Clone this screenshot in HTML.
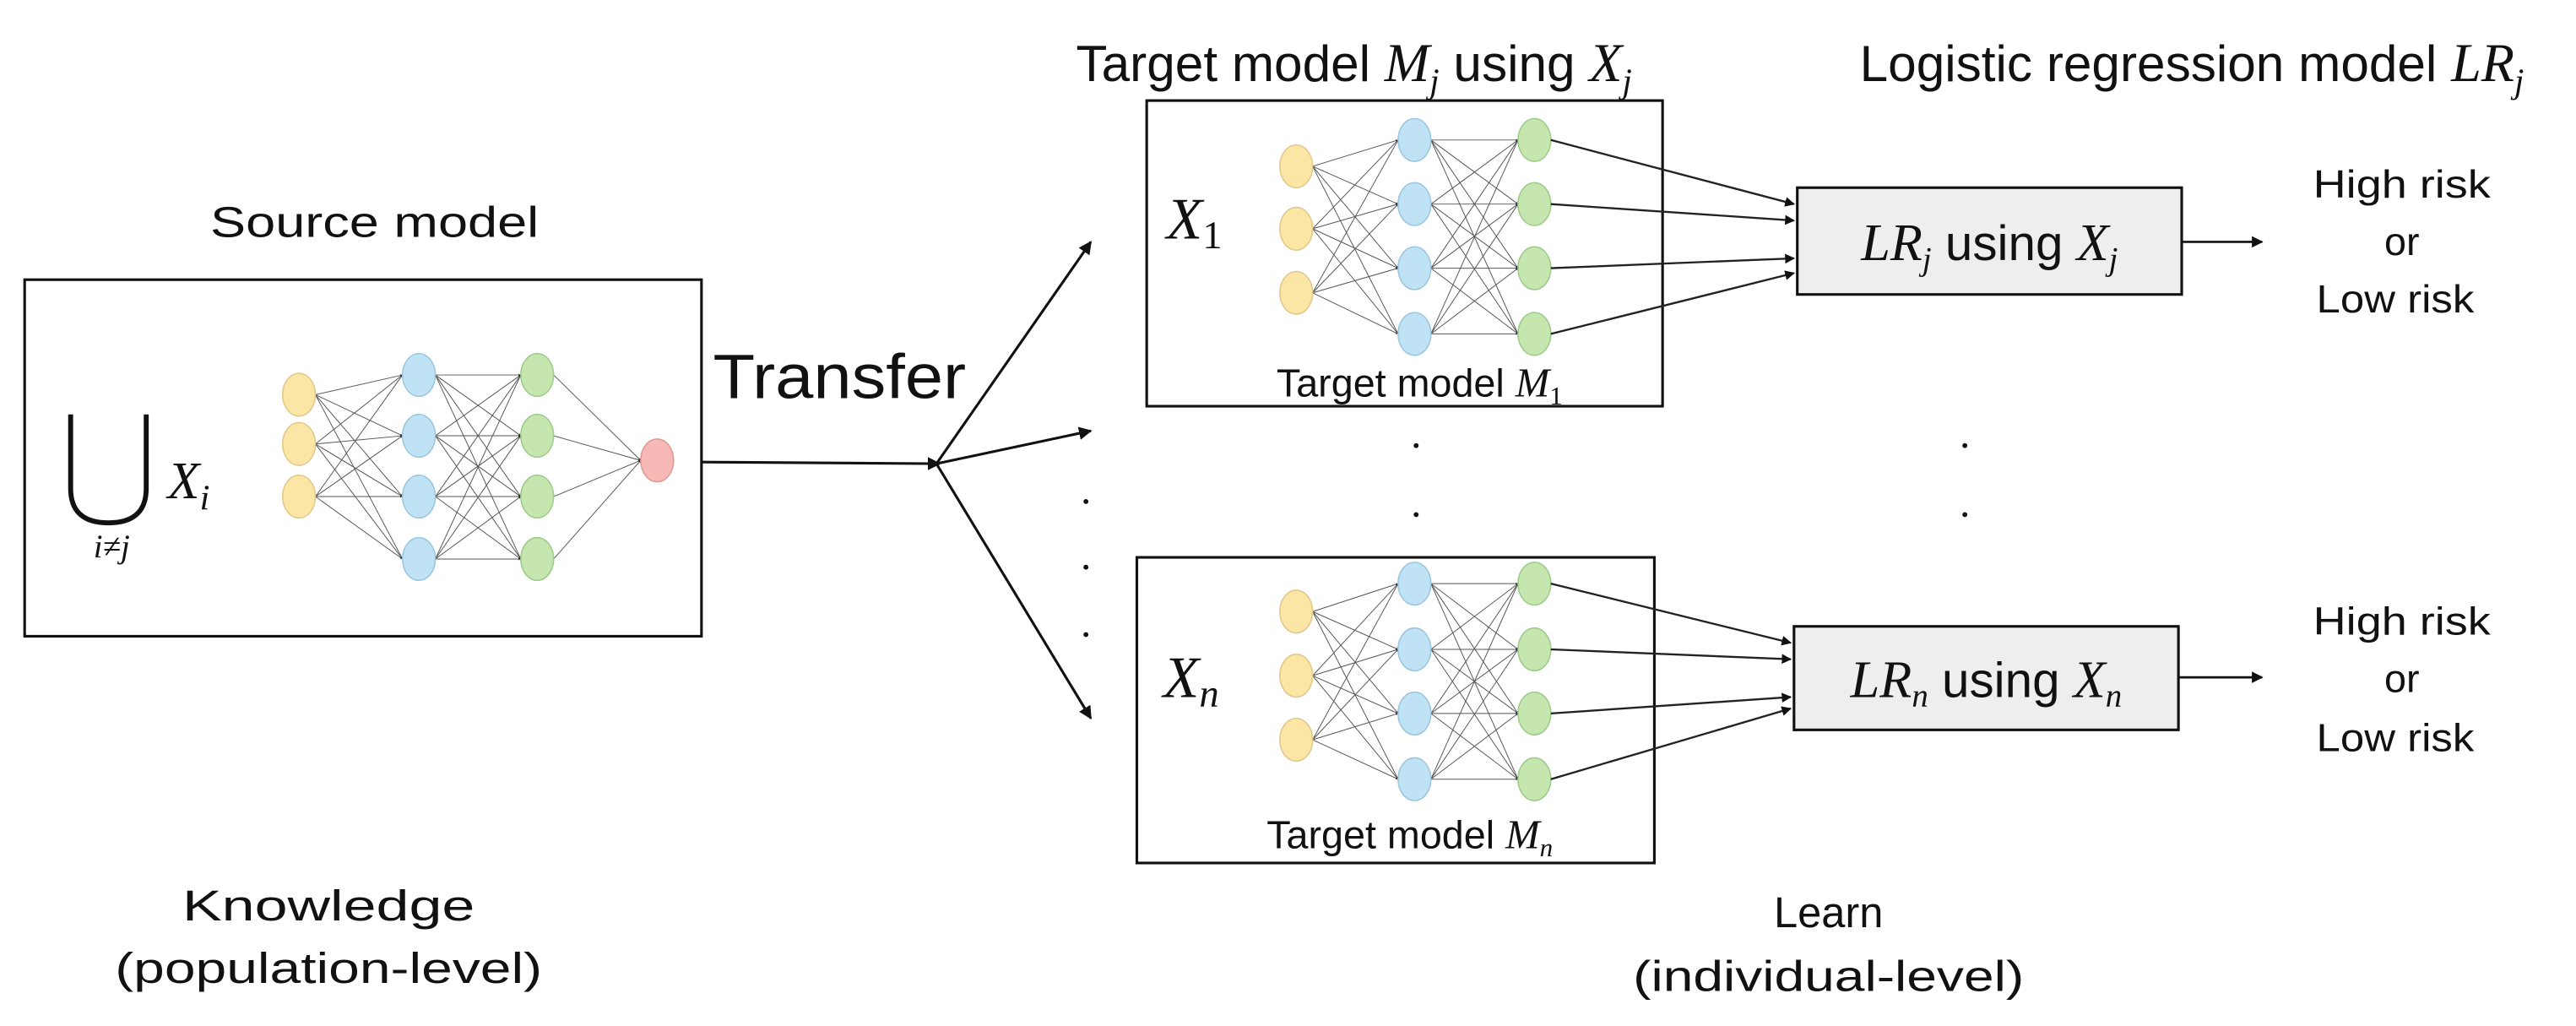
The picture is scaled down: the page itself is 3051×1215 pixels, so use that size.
<!DOCTYPE html>
<html><head><meta charset="utf-8">
<style>
html,body{margin:0;padding:0;background:#fff;}
svg{display:block;}
text{font-family:"Liberation Sans",sans-serif;fill:#111;}
.m{font-family:"Liberation Serif",serif;font-style:italic;}
</style></head>
<body>
<svg id="s" width="3051" height="1215" viewBox="0 0 1568 624" xmlns="http://www.w3.org/2000/svg">
<defs>
<marker id="ah" viewBox="0 0 10 10" refX="9" refY="5" markerWidth="5" markerHeight="5" orient="auto"><path d="M0,0 L10,5 L0,10 z" fill="#111"/></marker>
<marker id="as" viewBox="0 0 10 10" refX="9" refY="5" markerWidth="3" markerHeight="3" orient="auto"><path d="M0,0 L10,5 L0,10 z" fill="#333"/></marker>
</defs>

<!-- Source model -->
<text x="228" y="144" font-size="26" text-anchor="middle" textLength="200" lengthAdjust="spacingAndGlyphs">Source model</text>
<rect x="15" y="170" width="412" height="217" fill="#fff" stroke="#111" stroke-width="1.6"/>
<path d="M43,252 L43,297 Q43,318 66,318 Q89,318 89,297 L89,252" fill="none" stroke="#111" stroke-width="3"/>
<text x="102" y="303" font-size="32" class="m">X<tspan font-size="22" dy="7">i</tspan></text>
<text x="68" y="339" font-size="20" class="m" text-anchor="middle">i≠j</text>
<g id="srcnet"></g>

<line x1="427" y1="281" x2="572" y2="282" stroke="#111" stroke-width="1.6" marker-end="url(#ah)"/>
<text x="434" y="242" font-size="38" textLength="154" lengthAdjust="spacingAndGlyphs">Transfer</text>
<line x1="570" y1="282" x2="664" y2="147" stroke="#111" stroke-width="1.6" marker-end="url(#ah)"/>
<line x1="570" y1="282" x2="664" y2="262" stroke="#111" stroke-width="1.6" marker-end="url(#ah)"/>
<line x1="570" y1="282" x2="664" y2="437" stroke="#111" stroke-width="1.6" marker-end="url(#ah)"/>

<!-- dots -->
<g fill="#111">
<circle cx="661" cy="305" r="1.5"/><circle cx="661" cy="345" r="1.5"/><circle cx="661" cy="386" r="1.5"/>
<circle cx="862" cy="271" r="1.5"/><circle cx="862" cy="313" r="1.5"/>
<circle cx="1196" cy="271" r="1.5"/><circle cx="1196" cy="313" r="1.5"/>
</g>

<!-- Titles -->
<text x="655" y="49" font-size="31">Target model <tspan class="m" font-size="33">M<tspan font-size="21" dy="7">j</tspan></tspan><tspan dy="-7"> using </tspan><tspan class="m" font-size="33">X<tspan font-size="21" dy="7">j</tspan></tspan></text>
<text x="1132" y="49" font-size="31">Logistic regression model <tspan class="m" font-size="33">LR<tspan font-size="21" dy="7">j</tspan></tspan></text>

<!-- Target box 1 -->
<rect x="698" y="61" width="314" height="186" fill="#fff" stroke="#111" stroke-width="1.6"/>
<text x="710" y="145" font-size="36" class="m">X<tspan font-size="24" dy="6" font-style="normal">1</tspan></text>
<text x="777" y="241" font-size="24">Target model <tspan class="m" font-size="25">M<tspan font-size="16" dy="5" font-style="normal">1</tspan></tspan></text>
<g id="t1"></g>

<rect x="1094" y="114" width="234" height="65" fill="#eeeeee" stroke="#111" stroke-width="1.6"/>
<text x="1211" y="158" font-size="30" text-anchor="middle"><tspan class="m" font-size="32">LR<tspan font-size="20" dy="6">j</tspan></tspan><tspan dy="-6"> using </tspan><tspan class="m" font-size="32">X<tspan font-size="20" dy="6">j</tspan></tspan></text>
<line x1="1328" y1="147" x2="1377" y2="147" stroke="#111" stroke-width="1.4" marker-end="url(#ah)"/>
<text x="1462" y="120" font-size="24" text-anchor="middle" textLength="108" lengthAdjust="spacingAndGlyphs">High risk</text>
<text x="1462" y="155" font-size="24" text-anchor="middle">or</text>
<text x="1458" y="190" font-size="24" text-anchor="middle" textLength="96" lengthAdjust="spacingAndGlyphs">Low risk</text>

<!-- Target box n -->
<rect x="692" y="339" width="315" height="186" fill="#fff" stroke="#111" stroke-width="1.6"/>
<text x="708" y="424" font-size="36" class="m">X<tspan font-size="24" dy="6">n</tspan></text>
<text x="771" y="516" font-size="24">Target model <tspan class="m" font-size="25">M<tspan font-size="16" dy="5">n</tspan></tspan></text>
<g id="tn"></g>

<rect x="1092" y="381" width="234" height="63" fill="#eeeeee" stroke="#111" stroke-width="1.6"/>
<text x="1209" y="424" font-size="30" text-anchor="middle"><tspan class="m" font-size="32">LR<tspan font-size="20" dy="6">n</tspan></tspan><tspan dy="-6"> using </tspan><tspan class="m" font-size="32">X<tspan font-size="20" dy="6">n</tspan></tspan></text>
<line x1="1326" y1="412" x2="1377" y2="412" stroke="#111" stroke-width="1.4" marker-end="url(#ah)"/>
<text x="1462" y="386" font-size="24" text-anchor="middle" textLength="108" lengthAdjust="spacingAndGlyphs">High risk</text>
<text x="1462" y="421" font-size="24" text-anchor="middle">or</text>
<text x="1458" y="457" font-size="24" text-anchor="middle" textLength="96" lengthAdjust="spacingAndGlyphs">Low risk</text>

<!-- bottom labels -->
<text x="200" y="560" font-size="26" text-anchor="middle" textLength="178" lengthAdjust="spacingAndGlyphs">Knowledge</text>
<text x="200" y="598" font-size="26" text-anchor="middle" textLength="260" lengthAdjust="spacingAndGlyphs">(population-level)</text>
<text x="1113" y="564" font-size="26" text-anchor="middle">Learn</text>
<text x="1113" y="603" font-size="26" text-anchor="middle" textLength="238" lengthAdjust="spacingAndGlyphs">(individual-level)</text>
</svg>
<script>
var NS="http://www.w3.org/2000/svg";
function el(g,t,a){var e=document.createElementNS(NS,t);for(var k in a)e.setAttribute(k,a[k]);g.appendChild(e);return e;}
function net(id,layers,rx,ry){
  var g=document.getElementById(id);
  var cols=["#fce6a6","#bfe3f5","#c6e6b0","#f7b9b5"],strokes=["#e0c98a","#9cc6de","#9ccb8a","#e09a96"];
  for(var l=0;l<layers.length-1;l++){
    var A=layers[l],B=layers[l+1];
    for(var i=0;i<A.ys.length;i++)for(var j=0;j<B.ys.length;j++)
      el(g,"line",{x1:A.x+rx,y1:A.ys[i],x2:B.x-rx,y2:B.ys[j],stroke:"#555","stroke-width":0.5,"marker-end":"url(#as)"});
  }
  layers.forEach(function(L){L.ys.forEach(function(y){
    el(g,"ellipse",{cx:L.x,cy:y,rx:rx,ry:ry,fill:cols[L.c],stroke:strokes[L.c],"stroke-width":0.8});});});
}
net("srcnet",[{x:182,ys:[240,270,302],c:0},{x:255,ys:[228,265,302,340],c:1},{x:327,ys:[228,265,302,340],c:2},{x:400,ys:[280],c:3}],10,13);
net("t1",[{x:789,ys:[101,139,178],c:0},{x:861,ys:[85,124,163,203],c:1},{x:934,ys:[85,124,163,203],c:2}],10,13);
net("tn",[{x:789,ys:[372,411,450],c:0},{x:861,ys:[355,395,434,474],c:1},{x:934,ys:[355,395,434,474],c:2}],10,13);
var s=document.getElementById("s");
[[85,124],[124,134],[163,157],[203,166]].forEach(function(p){el(s,"line",{x1:944,y1:p[0],x2:1092,y2:p[1],stroke:"#222","stroke-width":1.2,"marker-end":"url(#ah)"});});
[[355,391],[395,401],[434,424],[474,431]].forEach(function(p){el(s,"line",{x1:944,y1:p[0],x2:1090,y2:p[1],stroke:"#222","stroke-width":1.2,"marker-end":"url(#ah)"});});
</script>
</body></html>
